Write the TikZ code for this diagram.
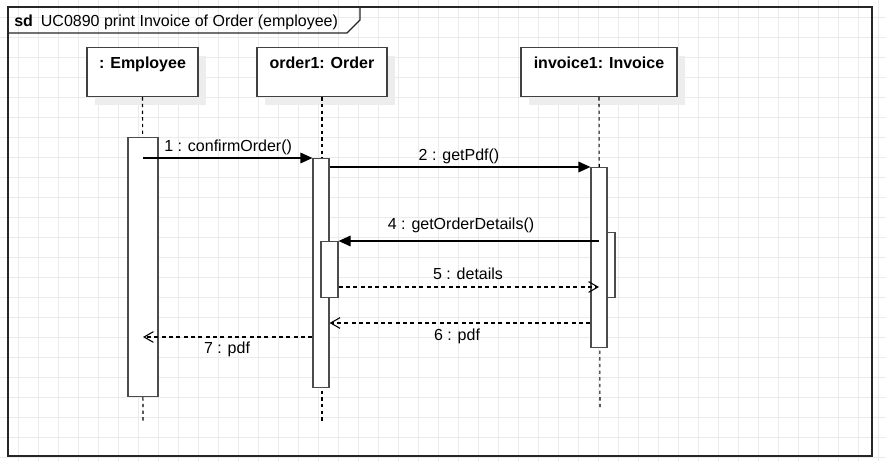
\documentclass[tikz,border=0pt]{standalone}
\usepackage{fontspec}
\setmainfont{Liberation Sans}
\usetikzlibrary{arrows.meta,positioning,calc,shadows}

\begin{document}
\begin{tikzpicture}[
    x=0.75pt, y=-0.75pt,
    gridline/.style={draw=black!8, line width=0.6pt},
    frame/.style={draw=black!85, line width=0.9pt},
    head/.style={rectangle, draw=black!75, fill=white, line width=0.9pt, minimum width=#1,
        inner ysep=0pt, text height=15.75pt, text depth=21pt, anchor=north,
        font=\fontsize{12}{14}\selectfont\bfseries,
        drop shadow={opacity=1, fill=black!7, shadow xshift=6pt, shadow yshift=-6pt}},
    bar/.style={rectangle, draw=black!70, fill=white, line width=0.9pt, inner sep=0pt, anchor=north},
    lifeline/.style={draw=black, line width=0.8pt, dash pattern=on 2.5pt off 2.5pt},
    call/.style={draw=black, line width=0.9pt, -{Triangle[length=9pt, width=8pt]}},
    reply/.style={draw=black, line width=0.8pt, dash pattern=on 3pt off 2.5pt, -{Straight Barb[length=7pt, width=8pt]}},
    msgtext/.style={font=\fontsize{12}{14}\selectfont, inner sep=0pt, anchor=base},
]
    \useasboundingbox (0,0) rectangle (886,461);

    % Grid
    \foreach \i in {0,...,43} {\draw[gridline] ({18.5+20*\i},0) -- ({18.5+20*\i},461);}
    \foreach \j in {0,...,22} {\draw[gridline] (0,{17+20*\j}) -- (886,{17+20*\j});}

    % Frame
    \draw[frame] (8,7) rectangle (872,456);
    \draw[frame] (8,33) -- (347,33) -- (360,20) -- (360,7);
    \node[msgtext, anchor=base west] (title) at (14,26) {\textbf{sd}\hspace{6pt}UC0890 print Invoice of Order (employee)};

    % Lifelines
    \node[head=83.25pt] (emp) at (142.5,47) {: Employee};
    \node[head=97.5pt] (ord) at (322,47) {order1: Order};
    \node[head=117pt] (inv) at (599,47) {invoice1: Invoice};

    \coordinate (eend) at (143,422);
    \coordinate (oend) at (322,422);
    \coordinate (iend) at (600,408);
    \draw[lifeline] (emp.south) -- (eend);
    \draw[lifeline] (ord.south) -- (oend);
    \draw[lifeline] (inv.south) -- (iend);

    % Activations
    \node[bar, minimum width=22.5pt, minimum height=194.25pt] (ebar) at (143,137) {};
    \node[bar, minimum width=12pt, minimum height=171.75pt] (obar) at (321,158) {};
    \node[bar, minimum width=12pt, minimum height=135pt] (ibar) at (599,167) {};
    \node[bar, minimum width=12.75pt, minimum height=42pt] (obar2) at (329.5,241) {};
    \node[bar, minimum width=6pt, minimum height=48.75pt] (ibar2) at (611,232) {};

    % Messages
    \coordinate (m5) at (0,287);
    \coordinate (m6) at (0,323);
    \coordinate (m7) at (0,337);
    \draw[call] (ebar.north |- obar.north) -- (obar.north west);
    \draw[call] (obar.north east |- ibar.north) -- (ibar.north west);
    \draw[call] (ibar.center |- obar2.north) -- (obar2.north east);
    \draw[reply] (obar2.east |- m5) -- (ibar.center |- m5);
    \draw[reply] (ibar.west |- m6) -- (obar.east |- m6);
    \draw[reply] (obar.west |- m7) -- (ebar.center |- m7);

    % Message labels
    \node[msgtext, anchor=base west] (l1) at (164,151) {1 : confirmOrder()};
    \node[msgtext] (l2) at (459,160) {2 : getPdf()};
    \node[msgtext] (l4) at (461,229) {4 : getOrderDetails()};
    \node[msgtext] (l5) at (468,279) {5 : details};
    \node[msgtext] (l6) at (457,340) {6 : pdf};
    \node[msgtext] (l7) at (227,353) {7 : pdf};
\end{tikzpicture}
\end{document}
